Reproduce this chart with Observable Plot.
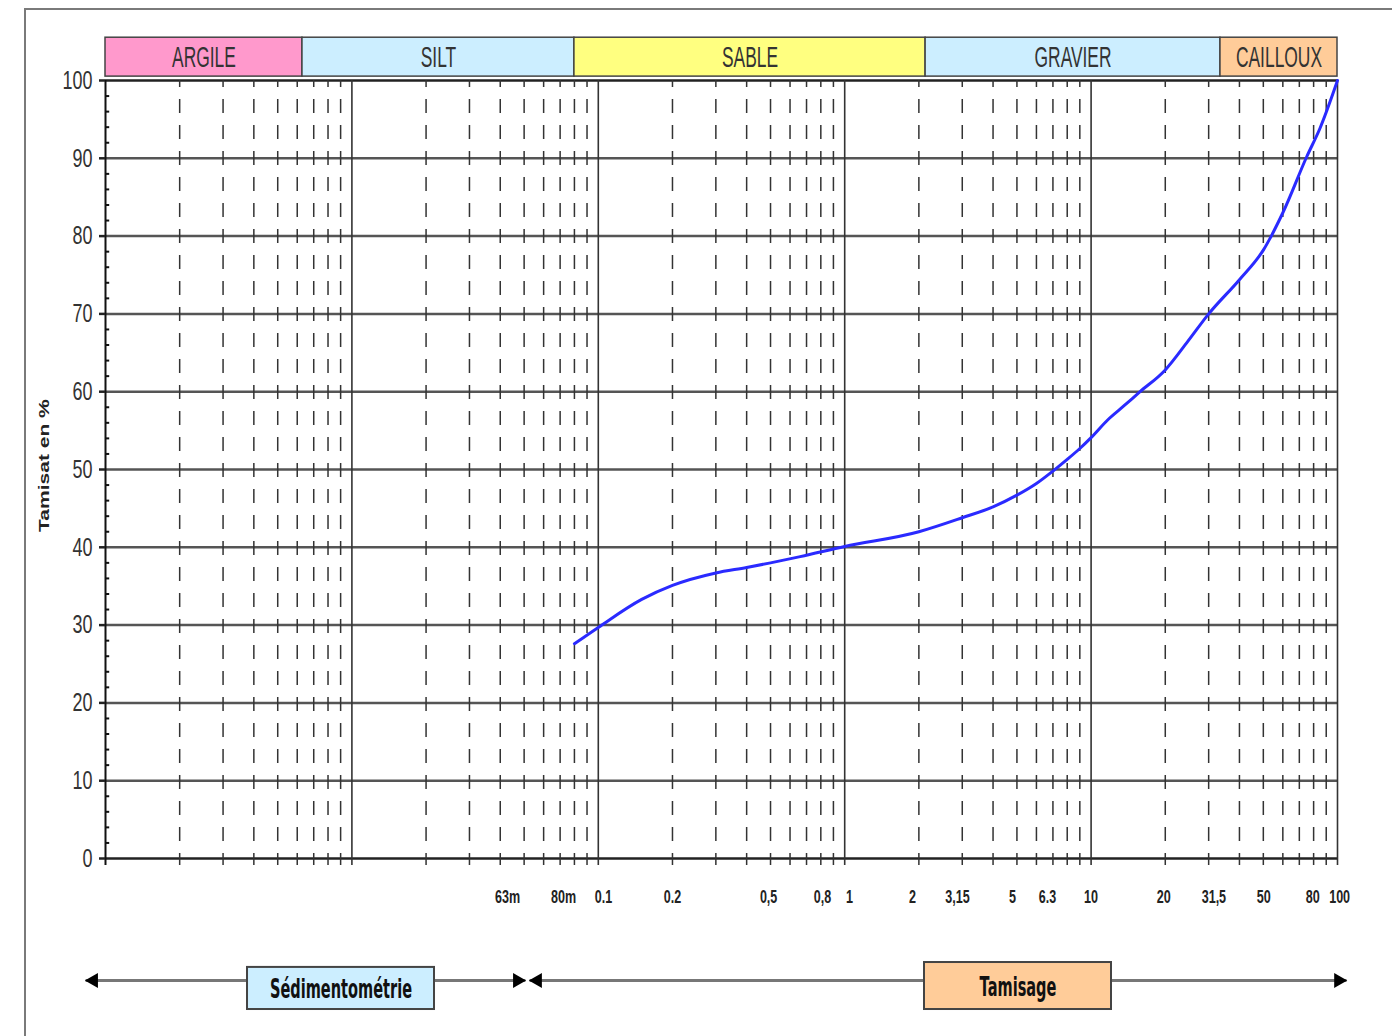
<!DOCTYPE html>
<html><head><meta charset="utf-8">
<script src="https://cdn.jsdelivr.net/npm/d3@7"></script>
<script src="https://cdn.jsdelivr.net/npm/@observablehq/plot@0.6"></script>
<style>
body{margin:0;background:#fff;}
#wrap{position:relative;width:1392px;height:1036px;overflow:hidden;background:#fff;}
#frame{position:absolute;left:24px;top:8px;width:1400px;height:1100px;border-top:2px solid #7a7a7a;border-left:2px solid #7a7a7a;}
#chart{position:absolute;left:0;top:0;}
</style></head><body><div id="wrap"><div id="frame"></div><div id="chart"></div></div>
<script>
// Soil classes (top band)
const categories = ["ARGILE", "SILT", "SABLE", "GRAVIER", "CAILLOUX"];
const categoryStart = [0.001, 0.0063, 0.08, 2.13, 33.5];
const categoryEnd = [0.0063, 0.08, 2.13, 33.5, 100];
const categoryColors = ["#ff99cc", "#cceeff", "#ffff80", "#cceeff", "#ffcc99"];

// Grading curve: grain size (mm) vs % passing
const sieveSizes = [0.08, 0.1, 0.15, 0.2, 0.3, 0.4, 0.5, 0.66, 1, 2, 3, 4, 5, 6, 7, 8, 9, 10, 11.7, 13.5, 15.8, 20, 24.6, 30, 40, 50, 60, 75, 85, 100];
const passingPct = [27.6, 29.7, 33.3, 35.1, 36.7, 37.4, 38.0, 38.8, 40.1, 42.0, 43.8, 45.2, 46.7, 48.2, 49.8, 51.3, 52.7, 54.1, 56.4, 58.1, 60.0, 62.8, 66.4, 70.0, 74.4, 78.2, 83.0, 90.2, 93.9, 100];

// Bottom tick labels and where they sit on the scale
const xLabels = ["63m", "80m", "0.1", "0.2", "0,5", "0,8", "1", "2", "3,15", "5", "6.3", "10", "20", "31,5", "50", "80", "100"];
const xLabelAt = [0.0428, 0.0723, 0.105, 0.2, 0.491, 0.813, 1.046, 1.885, 2.87, 4.8, 6.65, 10, 19.7, 31.5, 50.2, 79.4, 102];

// Grid
const decadeLines = [0.01, 0.1, 1, 10, 100];
const minorLines = [0.001, 0.01, 0.1, 1, 10].flatMap(d => [2,3,4,5,6,7,8,9].map(k => d * k));
const yMajor = d3.range(0, 101, 10);
const yMinor = d3.range(2, 100, 2).filter(d => d % 10 !== 0);

// Methods (bottom arrows)
const methods = ["Sédimentométrie", "Tamisage"];
const methodArrowFrom = [0.00083, 0.0526];
const methodArrowTo = [0.0506, 108.8];
const methodBoxFrom = [0.00377, 2.108];
const methodBoxTo = [0.02164, 12.1];
const methodBoxTop = [-14.0, -13.37];
const methodColors = ["#cceeff", "#ffcc99"];
const arrowLevel = -15.68;

const cats = categories.map((c, i) => ({c, a: categoryStart[i], b: categoryEnd[i], fill: categoryColors[i]}));
const curve = sieveSizes.map((x, i) => ({x, y: passingPct[i]}));
const xlab = xLabels.map((t, i) => ({t, x: xLabelAt[i]}));
const meth = methods.map((m, i) => ({m, a: methodArrowFrom[i], b: methodArrowTo[i], x1: methodBoxFrom[i], x2: methodBoxTo[i], top: methodBoxTop[i], fill: methodColors[i]}));

const chart = Plot.plot({
  width: 1392, height: 1036,
  marginLeft: 105, marginRight: 55, marginTop: 80, marginBottom: 178,
  style: {fontFamily: "'Liberation Sans', Arial, sans-serif", color: "#222", background: "transparent", overflow: "visible"},
  x: {type: "log", domain: [0.001, 100], axis: null},
  y: {domain: [0, 100]},
  marks: [
    // header band
    Plot.rect(cats, {x1: "a", x2: "b", y1: 100.5, y2: 105.5, fill: "fill", stroke: "#444", strokeWidth: 1.5}),
    Plot.text(cats, {x: d => Math.sqrt(d.a * d.b), y: 102.9, text: "c", fontSize: 29, fill: "#333", ariaDescription: "hdr"}),
    // horizontal grid
    Plot.ruleY(yMajor, {x1: 0.001, x2: 100, stroke: d => (d === 0 || d === 100) ? "#222" : "#555", strokeWidth: 2.5}),
    // dashed minor verticals
    Plot.ruleX(minorLines, {y1: 100, y2: -0.9, stroke: "#333", strokeWidth: 1.5, strokeDasharray: "14,12", strokeDashoffset: 7}),
    // decade verticals
    Plot.ruleX(decadeLines, {y1: 100, y2: -0.9, stroke: "#333", strokeWidth: 1.6}),
    // y axis line
    Plot.ruleX([0.001], {y1: 100, y2: -0.9, stroke: "#111", strokeWidth: 2}),
    Plot.ruleY(yMinor, {x1: 0.001, x2: 0.00104, stroke: "#111", strokeWidth: 2}),
    Plot.axisY(yMajor, {tickSize: 6, tickPadding: 7, fontSize: 26, strokeWidth: 2.5, label: null, fill: "#333"}),
    // curve
    Plot.line(curve, {x: "x", y: "y", stroke: "#2a2aff", strokeWidth: 3, curve: "monotone-x"}),
    // x labels
    Plot.text(xlab, {x: "x", y: -5.0, text: "t", fontSize: 19, fontWeight: "bold", fill: "#222", ariaDescription: "xlab"}),
    // y title
    Plot.text(["Tamisat en %"], {x: 0.000565, y: 50.5, text: d => d, rotate: -90, fontSize: 14, fontWeight: "bold", fill: "#222", ariaDescription: "ytitle"}),
    // method arrows
    Plot.link(meth, {x1: "a", x2: "b", y1: arrowLevel, y2: arrowLevel, stroke: "#777", strokeWidth: 3}),
    Plot.dot(meth, {x: "a", y: arrowLevel, dx: 8, symbol: "triangle", rotate: -90, r: 5.6, fill: "#000", stroke: "none"}),
    Plot.dot(meth, {x: "b", y: arrowLevel, dx: -8, symbol: "triangle", rotate: 90, r: 5.6, fill: "#000", stroke: "none"}),
    Plot.rect(meth, {x1: "x1", x2: "x2", y1: "top", y2: -19.41, fill: "fill", stroke: "#444", strokeWidth: 2}),
    Plot.text(meth, {x: d => Math.sqrt(d.x1 * d.x2), y: d => (d.top - 19.41) / 2 - 0.2, text: "m", fontSize: 26, fontWeight: "bold", fontFamily: "'DejaVu Sans', sans-serif", fill: "#111", ariaDescription: "meth"})
  ]
});
document.getElementById("chart").appendChild(chart);

function squeeze(sel, ratio) {
  chart.querySelectorAll(sel).forEach(t => {
    const w = t.getComputedTextLength();
    t.setAttribute("textLength", (w * ratio).toFixed(1));
    t.setAttribute("lengthAdjust", "spacingAndGlyphs");
  });
}
squeeze('g[aria-label="y-axis tick label"] text', 0.69);
squeeze('g[aria-description="hdr"] text', 0.6);
squeeze('g[aria-description="xlab"] text', 0.66);
squeeze('g[aria-description="ytitle"] text', 1.5);
squeeze('g[aria-description="meth"] text', 0.56);
</script></body></html>
